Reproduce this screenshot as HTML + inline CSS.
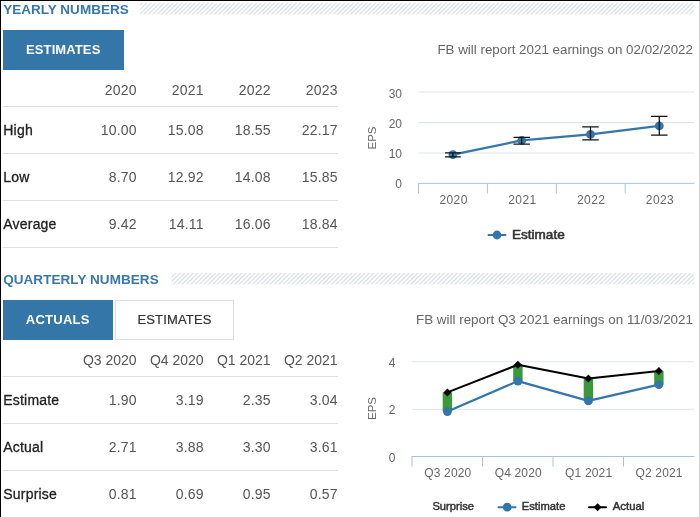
<!DOCTYPE html>
<html><head><meta charset="utf-8">
<style>
html,body{margin:0;padding:0;background:#fff;}
body{width:700px;height:517px;position:relative;overflow:hidden;font-family:"Liberation Sans",Arial,sans-serif;}
.bt{position:absolute;left:0;top:0;width:700px;height:1px;background:#000;}
.bl{position:absolute;left:0;top:0;width:1px;height:517px;background:#000;}
.br{position:absolute;left:699px;top:1px;width:1px;height:516px;background:#d4d4d4;}
.hatch{position:absolute;left:3px;width:691px;height:11px;}
.hd{position:absolute;left:0;top:-2px;height:17.2px;line-height:17.2px;background:#fff;padding:0 12px 0 0.2px;
 font-weight:bold;font-size:13.5px;color:#3777a9;white-space:nowrap;}
.btn{position:absolute;height:40px;line-height:40px;text-align:center;font-size:13px;font-weight:bold;white-space:nowrap;box-sizing:border-box;}
.btn.on{background:#3576a8;color:#fff;}
.btn.off{background:#fff;color:#333;border:1px solid #dedede;line-height:38px;font-weight:normal;-webkit-text-stroke:0.2px #333;}
.row{position:absolute;left:3px;width:335px;border-bottom:1px solid #e1e1e1;display:flex;font-size:14px;box-sizing:content-box;}
.row div{width:67px;text-align:right;color:#555;white-space:nowrap;letter-spacing:0.2px;padding-right:0.3px;box-sizing:border-box;}
.row div:first-child{text-align:left;color:#222;padding-left:0.3px;box-sizing:border-box;-webkit-text-stroke:0.3px #222;letter-spacing:0.2px;}
.rh{height:36px;line-height:40px;}
.qh div{letter-spacing:-0.05px;padding-right:0.6px;}
.rd{height:46px;line-height:46px;}
svg{position:absolute;left:0;top:0;}
svg text{font-family:"Liberation Sans",Arial,sans-serif;}
</style></head><body>
<div class="bt"></div><div class="bl"></div><div class="br"></div>

<div class="hatch" style="top:3px"><div class="hd" style="letter-spacing:0.02px">YEARLY NUMBERS</div></div>
<div class="btn on" style="left:3px;top:30px;width:120.5px;letter-spacing:0.1px">ESTIMATES</div>

<div class="row rh" style="top:70px"><div></div><div>2020</div><div>2021</div><div>2022</div><div>2023</div></div>
<div class="row rd" style="top:107px"><div>High</div><div>10.00</div><div>15.08</div><div>18.55</div><div>22.17</div></div>
<div class="row rd" style="top:154px"><div>Low</div><div>8.70</div><div>12.92</div><div>14.08</div><div>15.85</div></div>
<div class="row rd" style="top:201px"><div>Average</div><div>9.42</div><div>14.11</div><div>16.06</div><div>18.84</div></div>

<div class="hatch" style="top:273px"><div class="hd" style="letter-spacing:0.06px">QUARTERLY NUMBERS</div></div>
<div class="btn on" style="left:3px;top:300px;width:109.5px;letter-spacing:0.27px">ACTUALS</div>
<div class="btn off" style="left:115px;top:300px;width:119px;letter-spacing:0.15px">ESTIMATES</div>

<div class="row rh qh" style="top:340px"><div></div><div>Q3 2020</div><div>Q4 2020</div><div>Q1 2021</div><div>Q2 2021</div></div>
<div class="row rd" style="top:377px"><div>Estimate</div><div>1.90</div><div>3.19</div><div>2.35</div><div>3.04</div></div>
<div class="row rd" style="top:424px"><div>Actual</div><div>2.71</div><div>3.88</div><div>3.30</div><div>3.61</div></div>
<div class="row rd" style="top:471px"><div>Surprise</div><div>0.81</div><div>0.69</div><div>0.95</div><div>0.57</div></div>

<svg width="700" height="517" viewBox="0 0 700 517">
<defs><pattern id="hp" width="4.4" height="4.4" patternUnits="userSpaceOnUse"><path d="M-1.1 1.1L1.1 -1.1M-0.5 4.9L4.9 -0.5M3.3 5.5L5.5 3.3" stroke="#ced7dd" stroke-width="1.05" fill="none"/></pattern></defs>
<rect x="140.3" y="3" width="553.9" height="11.4" fill="url(#hp)"/>
<rect x="171.6" y="273" width="522.6" height="11.4" fill="url(#hp)"/>
<!-- chart 1 -->
<text x="693" y="54.4" text-anchor="end" font-size="13" fill="#666" textLength="255.6" lengthAdjust="spacingAndGlyphs">FB will report 2021 earnings on 02/02/2022</text>
<g stroke="#e0e5eb" stroke-width="1.1">
<line x1="418.5" x2="694" y1="92" y2="92"/><line x1="418.5" x2="694" y1="122.6" y2="122.6"/><line x1="418.5" x2="694" y1="153" y2="153"/>
</g>
<g stroke="#a9c3de" stroke-width="1" fill="none">
<line x1="418" x2="694.5" y1="183.4" y2="183.4"/>
<path d="M418.5 183.4V193.5M487.4 183.4V193.5M556.3 183.4V193.5M625.2 183.4V193.5"/>
</g>
<g font-size="12" fill="#666" text-anchor="end">
<text x="402" y="98.3">30</text><text x="402" y="128.3">20</text><text x="402" y="158.3">10</text><text x="402" y="188.3">0</text>
</g>
<text transform="translate(375.8,138) rotate(-90)" text-anchor="middle" font-size="11.6" fill="#666">EPS</text>
<g font-size="12" fill="#666" text-anchor="middle">
<text x="453.4" y="204" textLength="28">2020</text><text x="522.2" y="204" textLength="28">2021</text><text x="591" y="204" textLength="28">2022</text><text x="659.8" y="204" textLength="28">2023</text>
</g>
<polyline points="452.9,154.7 521.7,140.4 590.5,134.4 659.3,125.9" fill="none" stroke="#3576a8" stroke-width="2.2" stroke-linejoin="round" stroke-linecap="round"/>
<g fill="#3576a8"><circle cx="452.9" cy="154.7" r="4.4"/><circle cx="521.7" cy="140.4" r="4.4"/><circle cx="590.5" cy="134.4" r="4.4"/><circle cx="659.3" cy="125.9" r="4.4"/></g>
<g stroke="#111" stroke-width="1.25" fill="none">
<path d="M452.9 152.9V156.9M445 152.9H460.8M445 156.9H460.8"/>
<path d="M521.7 137.4V144M513.5 137.4H529.9M513.5 144H529.9"/>
<path d="M590.5 126.8V139.9M582.3 126.8H598.7M582.3 139.9H598.7"/>
<path d="M659.3 116.4V135.1M651.1 116.4H667.5M651.1 135.1H667.5"/>
</g>
<line x1="488.5" x2="505.5" y1="235" y2="235" stroke="#3576a8" stroke-width="2" stroke-linecap="round"/>
<circle cx="497" cy="235" r="4.4" fill="#3576a8"/>
<text x="512" y="239.4" font-size="12" fill="#333" stroke="#333" stroke-width="0.55" textLength="52.7" lengthAdjust="spacingAndGlyphs">Estimate</text>

<!-- chart 2 -->
<text x="693" y="324" text-anchor="end" font-size="13" fill="#666" textLength="277" lengthAdjust="spacingAndGlyphs">FB will report Q3 2021 earnings on 11/03/2021</text>
<g stroke="#e0e5eb" stroke-width="1.1">
<line x1="412" x2="694" y1="361.8" y2="361.8"/><line x1="412" x2="694" y1="409.2" y2="409.2"/>
</g>
<g stroke="#a9c3de" stroke-width="1" fill="none">
<line x1="411.5" x2="694.5" y1="456.5" y2="456.5"/>
<path d="M412 456.5V466.5M482.5 456.5V466.5M553 456.5V466.5M623.5 456.5V466.5"/>
</g>
<g font-size="12" fill="#666" text-anchor="end">
<text x="395.5" y="367">4</text><text x="395.5" y="414.4">2</text><text x="395.5" y="461.7">0</text>
</g>
<text transform="translate(375.8,408.5) rotate(-90)" text-anchor="middle" font-size="11.6" fill="#666">EPS</text>
<g font-size="12" fill="#666" text-anchor="middle">
<text x="447.8" y="476.8" textLength="47">Q3 2020</text><text x="518.2" y="476.8" textLength="47">Q4 2020</text><text x="588.6" y="476.8" textLength="47">Q1 2021</text><text x="659" y="476.8" textLength="47">Q2 2021</text>
</g>
<g fill="#3a993a">
<rect x="442.7" y="392.4" width="9.4" height="19.2"/><rect x="513.2" y="364.7" width="9.4" height="16.4"/><rect x="583.7" y="378.4" width="9.4" height="22.5"/><rect x="654.2" y="371.1" width="9.4" height="13.5"/>
</g>
<polyline points="447.4,411.6 517.9,381.1 588.4,400.9 658.9,384.6" fill="none" stroke="#3576a8" stroke-width="2.2" stroke-linejoin="round" stroke-linecap="round"/>
<g fill="#3576a8"><circle cx="447.4" cy="411.6" r="4.4"/><circle cx="517.9" cy="381.1" r="4.4"/><circle cx="588.4" cy="400.9" r="4.4"/><circle cx="658.9" cy="384.6" r="4.4"/></g>
<polyline points="447.4,392.4 517.9,364.7 588.4,378.4 658.9,371.1" fill="none" stroke="#000" stroke-width="2" stroke-linejoin="round" stroke-linecap="round"/>
<g fill="#000">
<path d="M447.4 388.4l4 4l-4 4l-4-4z"/><path d="M517.9 360.7l4 4l-4 4l-4-4z"/><path d="M588.4 374.4l4 4l-4 4l-4-4z"/><path d="M658.9 367.1l4 4l-4 4l-4-4z"/>
</g>
<text x="432.4" y="510.4" font-size="10.5" fill="#333" stroke="#333" stroke-width="0.45" textLength="41.6" lengthAdjust="spacingAndGlyphs">Surprise</text>
<line x1="498.5" x2="515.5" y1="507.2" y2="507.2" stroke="#3576a8" stroke-width="2" stroke-linecap="round"/>
<circle cx="507.2" cy="507.2" r="4.4" fill="#3576a8"/>
<text x="521.8" y="510.4" font-size="10.5" fill="#333" stroke="#333" stroke-width="0.45" textLength="43.6" lengthAdjust="spacingAndGlyphs">Estimate</text>
<line x1="589" x2="606" y1="507.2" y2="507.2" stroke="#000" stroke-width="2" stroke-linecap="round"/>
<path d="M597.6 503.2l4 4l-4 4l-4-4z" fill="#000"/>
<text x="612.8" y="510.4" font-size="10.5" fill="#333" stroke="#333" stroke-width="0.45" textLength="31.5" lengthAdjust="spacingAndGlyphs">Actual</text>
</svg>
</body></html>
